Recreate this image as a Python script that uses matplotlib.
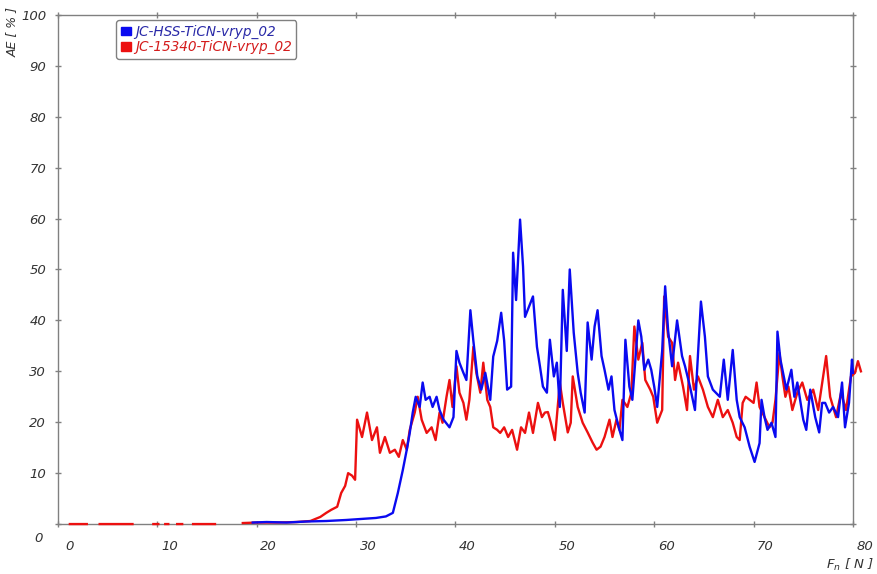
import numpy as np
import matplotlib.pyplot as plt
from matplotlib.patches import Patch
from matplotlib.transforms import ScaledTranslation

nan = np.nan

# acoustic emission vs. normal force, two coated samples
hss_label = 'JC-HSS-TiCN-vryp_02'
hss_force = [19.6, 21.0, 23.0, 25.0, 27.0, 29.0, 30.5, 32.0, 33.0, 33.7, 34.2, 34.7, 35.1, 35.4,
             35.7, 36.0, 36.4, 36.7, 37.0, 37.4, 37.7, 38.1, 38.4, 38.8, 39.4, 39.8, 40.1, 40.4,
             40.8, 41.1, 41.5, 41.8, 42.2, 42.6, 43.0, 43.5, 43.8, 44.2, 44.6, 44.9, 45.2, 45.6,
             45.8, 46.1, 46.5, 46.8, 47.0, 47.4, 47.8, 48.2, 48.5, 48.8, 49.2, 49.5, 49.9, 50.2,
             50.5, 50.8, 51.2, 51.5, 51.9, 52.3, 52.6, 53.0, 53.3, 53.7, 54.0, 54.3, 54.7, 55.0,
             55.4, 55.7, 56.0, 56.5, 56.8, 57.1, 57.5, 57.8, 58.4, 58.7, 59.0, 59.4, 59.7, 60.0,
             60.3, 60.8, 61.1, 61.4, 61.8, 62.3, 62.8, 63.1, 63.6, 64.1, 64.3, 64.7, 65.1, 65.4,
             65.9, 66.6, 67.0, 67.4, 67.9, 68.3, 68.6, 69.1, 69.6, 70.1, 70.6, 70.8, 71.1, 71.4,
             71.8, 72.2, 72.4, 72.7, 73.3, 73.8, 74.1, 74.4, 75.0, 75.3, 75.7, 76.2, 76.6, 76.9,
             77.2, 77.6, 78.0, 78.5, 78.9, 79.2, 79.6, 79.9, 80.0]
hss_ae = [0.3, 0.4, 0.3, 0.5, 0.6, 0.8, 1.0, 1.2, 1.5, 2.2, 6.1, 10.6, 14.6, 17.9,
          21.9, 25.0, 23.0, 27.8, 24.4, 25.0, 23.0, 25.0, 22.4, 20.5, 19.0, 21.0, 34.0, 31.7,
          29.7, 28.3, 42.0, 36.0, 29.0, 26.4, 29.7, 24.4, 32.9, 36.0, 41.5, 36.0, 26.4, 27.0,
          53.3, 44.0, 59.8, 50.6, 40.7, 42.7, 44.7, 34.8, 31.0, 27.0, 25.8, 36.2, 29.0, 31.7,
          23.0, 46.0, 34.0, 50.0, 37.6, 29.7, 25.8, 21.9, 39.6, 32.3, 38.8, 42.0, 33.0, 30.3,
          26.4, 29.0, 22.4, 18.5, 16.5, 36.2, 27.0, 24.4, 40.0, 36.8, 30.3, 32.3, 30.3, 27.0,
          23.0, 34.0, 46.7, 38.0, 31.0, 40.0, 33.0, 31.0, 27.0, 22.4, 29.7, 43.7, 36.8, 29.0,
          26.4, 25.0, 32.3, 24.4, 34.2, 24.4, 21.0, 19.0, 15.2, 12.2, 15.9, 24.4, 21.0, 18.5,
          19.9, 17.1, 37.8, 32.3, 26.4, 30.3, 25.0, 27.8, 20.5, 18.5, 26.4, 21.0, 18.0, 23.8,
          23.8, 21.9, 23.0, 21.0, 27.8, 19.0, 23.8, 32.3, 29.7]

tin_label = 'JC-15340-TiCN-vryp_02'
tin_force = [1.2, 2.9, 2.9, 4.2, 7.5, 7.5, 9.6, 10.1, 10.1, 10.8, 11.1, 11.1, 12.0, 12.5, 12.5,
             13.6, 15.8, 15.8,
             18.6, 20.0, 22.0, 24.0, 25.4, 26.4, 27.0, 27.5, 28.1, 28.5, 28.9, 29.2, 29.6, 29.9,
             30.1, 30.6, 31.1, 31.6, 32.1, 32.4, 32.9, 33.4, 33.9, 34.3, 34.7, 35.1, 35.4, 35.9,
             36.2, 36.6, 37.1, 37.6, 38.0, 38.4, 38.7, 39.1, 39.4, 39.7, 40.1, 40.4, 40.8, 41.1,
             41.4, 41.8, 42.1, 42.5, 42.8, 43.2, 43.5, 43.8, 44.2, 44.5, 44.9, 45.3, 45.7, 46.2,
             46.6, 47.0, 47.4, 47.8, 48.3, 48.7, 49.0, 49.3, 49.6, 50.0, 50.5, 50.8, 51.3, 51.6,
             51.8, 52.3, 52.8, 53.3, 53.8, 54.2, 54.6, 55.0, 55.5, 55.8, 56.2, 56.5, 56.8, 57.3,
             57.7, 58.0, 58.4, 58.8, 59.1, 59.6, 59.9, 60.3, 60.8, 61.0, 61.4, 61.8, 62.1, 62.4,
             62.9, 63.3, 63.6, 64.0, 64.4, 64.9, 65.4, 65.9, 66.4, 66.9, 67.4, 67.9, 68.3, 68.6,
             68.9, 69.2, 69.6, 70.0, 70.3, 70.6, 71.1, 71.6, 71.9, 72.2, 72.4, 72.6, 72.9, 73.2,
             73.5, 73.9, 74.4, 74.9, 75.4, 76.0, 76.5, 77.3, 77.7, 78.3, 78.8, 79.3, 79.8, 80.2,
             80.5, 80.8]
tin_ae = [0.0, 0.0, nan, 0.0, 0.0, nan, 0.0, 0.0, nan, 0.0, 0.0, nan, 0.0, 0.0, nan,
          0.0, 0.0, nan,
          0.2, 0.3, 0.3, 0.4, 0.6, 1.4, 2.2, 2.8, 3.4, 6.1, 7.5, 10.0, 9.5, 8.7,
          20.5, 17.1, 21.9, 16.5, 19.0, 14.0, 17.1, 14.0, 14.6, 13.2, 16.5, 14.6, 18.5, 21.9,
          25.0, 20.5, 17.9, 19.0, 16.5, 21.9, 19.9, 25.0, 28.3, 23.0, 31.0, 25.8, 23.8, 20.5,
          24.4, 34.8, 29.7, 25.8, 31.7, 24.4, 23.0, 19.0, 18.5, 17.9, 19.0, 17.1, 18.5, 14.6,
          19.0, 17.9, 21.9, 17.9, 23.8, 21.0, 21.9, 22.0, 19.9, 16.5, 27.8, 23.8, 18.0, 19.9,
          29.0, 23.0, 19.9, 18.0, 16.0, 14.6, 15.2, 17.1, 20.5, 17.1, 20.5, 18.5, 24.4, 23.0,
          25.8, 38.8, 32.3, 35.6, 28.3, 26.4, 25.0, 19.9, 22.4, 44.7, 36.8, 35.6, 28.3, 31.7,
          27.0, 22.4, 33.0, 26.4, 29.0, 26.4, 23.0, 21.0, 24.4, 21.0, 22.4, 19.9, 17.1, 16.5,
          23.8, 25.0, 24.4, 23.8, 27.8, 23.0, 21.0, 19.0, 19.9, 24.4, 29.0, 33.6, 29.0, 25.0,
          27.0, 22.4, 25.8, 27.8, 24.4, 26.4, 22.4, 33.0, 25.0, 21.0, 25.8, 22.4, 29.0, 29.7,
          32.0, 30.0]

x_ticks = [0, 10, 20, 30, 40, 50, 60, 70, 80]
y_ticks = [0, 10, 20, 30, 40, 50, 60, 70, 80, 90, 100]

blue = '#0a0af0'
red = '#ec1010'
grey = '#808080'
text_col = '#333333'

fig = plt.figure(figsize=(8.78, 5.74), dpi=100)
ax = fig.add_axes([0.066, 0.087, 0.9055, 0.887])

ax.plot(tin_force, tin_ae, color=red, lw=1.7, zorder=3, clip_on=False)
ax.plot(hss_force, hss_ae, color=blue, lw=1.7, zorder=4, clip_on=False)

ax.set_xlim(0, 80)
ax.set_ylim(0, 100)
ax.set_xticks(x_ticks)
ax.set_yticks(y_ticks)
ax.set_xticklabels([str(v) for v in x_ticks])
ax.set_yticklabels([str(v) for v in y_ticks])

for s in ax.spines.values():
    s.set_color(grey)
    s.set_linewidth(1)
ax.tick_params(direction='inout', length=5, width=1, color=grey, top=True, right=True,
               labelsize=9.5, labelcolor=text_col)
ax.tick_params(axis='x', pad=9)
ax.tick_params(axis='y', pad=6)

# tick labels sit a bit off their ticks
for lbl in ax.get_xticklabels():
    lbl.set_style('italic')
    lbl.set_transform(lbl.get_transform() + ScaledTranslation(0.12, 0, fig.dpi_scale_trans))
for lbl in ax.get_yticklabels():
    lbl.set_style('italic')
ylbl0 = ax.get_yticklabels()[0]
ylbl0.set_transform(ylbl0.get_transform() + ScaledTranslation(-0.03, -0.13, fig.dpi_scale_trans))

fig.text(12 / 878, 1 - 32 / 574, 'AE [ % ]', rotation=90, ha='center', va='center',
         style='italic', fontsize=9, color=text_col)
fig.text(850 / 878, 1 - 565 / 574, r'$F_n$ [ N ]', ha='center', va='center',
         style='italic', fontsize=9.5, color=text_col)

handles = [Patch(facecolor=blue, edgecolor=blue), Patch(facecolor=red, edgecolor=red)]
leg = ax.legend(handles, [hss_label, tin_label], loc='upper left',
                bbox_to_anchor=(0.0735, 0.99), handlelength=0.7,
                handleheight=0.6, handletextpad=0.3, borderpad=0.35, labelspacing=0.1,
                borderaxespad=0, fancybox=True, framealpha=1, edgecolor=grey,
                prop={'style': 'italic', 'size': 9.8})
leg.get_frame().set_linewidth(1)
leg.get_texts()[0].set_color('#2a2aa8')
leg.get_texts()[1].set_color('#d41c1c')

fig.savefig('out.png', dpi=100)
